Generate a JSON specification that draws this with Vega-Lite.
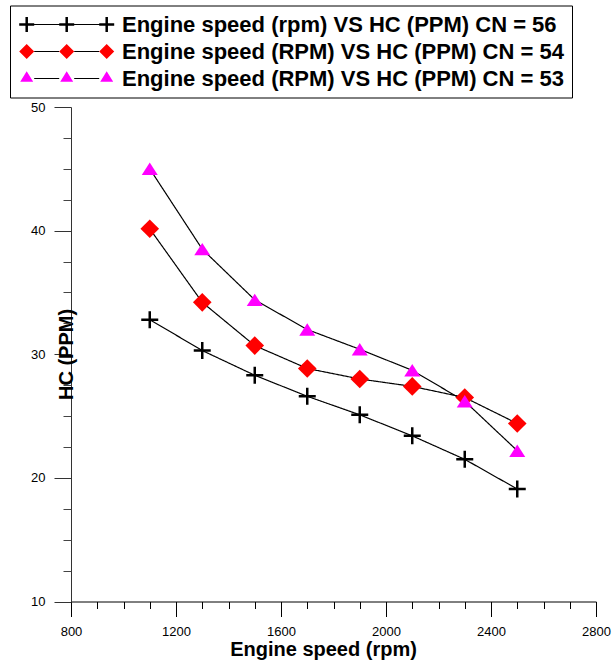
{
  "$schema": "https://vega.github.io/schema/vega-lite/v6.json",
  "width": 525,
  "height": 494.5,
  "autosize": {"type": "none"},
  "padding": {"left": 71, "top": 107, "right": 17, "bottom": 60.5},
  "background": "white",
  "config": {
    "view": {"stroke": null},
    "font": "Liberation Sans",
    "axis": {
      "grid": false,
      "labelFont": "Liberation Sans",
      "labelFontSize": 13,
      "labelColor": "black",
      "labelFlush": false,
      "labelOverlap": false,
      "titleFont": "Liberation Sans",
      "titleFontSize": 20,
      "titleFontWeight": "bold",
      "titleColor": "black",
      "domainColor": "black",
      "tickColor": "black",
      "domainWidth": 1,
      "tickWidth": 1
    }
  },
  "data": {
    "values": [
      {"series": "Engine speed (rpm) VS HC (PPM) CN = 56", "rpm": 1100, "hc": 32.8},
      {"series": "Engine speed (rpm) VS HC (PPM) CN = 56", "rpm": 1300, "hc": 30.3},
      {"series": "Engine speed (rpm) VS HC (PPM) CN = 56", "rpm": 1500, "hc": 28.3},
      {"series": "Engine speed (rpm) VS HC (PPM) CN = 56", "rpm": 1700, "hc": 26.6},
      {"series": "Engine speed (rpm) VS HC (PPM) CN = 56", "rpm": 1900, "hc": 25.1},
      {"series": "Engine speed (rpm) VS HC (PPM) CN = 56", "rpm": 2100, "hc": 23.4},
      {"series": "Engine speed (rpm) VS HC (PPM) CN = 56", "rpm": 2300, "hc": 21.5},
      {"series": "Engine speed (rpm) VS HC (PPM) CN = 56", "rpm": 2500, "hc": 19.1},
      {"series": "Engine speed (RPM) VS HC (PPM) CN = 54", "rpm": 1100, "hc": 40.15},
      {"series": "Engine speed (RPM) VS HC (PPM) CN = 54", "rpm": 1300, "hc": 34.2},
      {"series": "Engine speed (RPM) VS HC (PPM) CN = 54", "rpm": 1500, "hc": 30.7},
      {"series": "Engine speed (RPM) VS HC (PPM) CN = 54", "rpm": 1700, "hc": 28.85},
      {"series": "Engine speed (RPM) VS HC (PPM) CN = 54", "rpm": 1900, "hc": 28.0},
      {"series": "Engine speed (RPM) VS HC (PPM) CN = 54", "rpm": 2100, "hc": 27.4},
      {"series": "Engine speed (RPM) VS HC (PPM) CN = 54", "rpm": 2300, "hc": 26.5},
      {"series": "Engine speed (RPM) VS HC (PPM) CN = 54", "rpm": 2500, "hc": 24.4},
      {"series": "Engine speed (RPM) VS HC (PPM) CN = 53", "rpm": 1100, "hc": 45.0},
      {"series": "Engine speed (RPM) VS HC (PPM) CN = 53", "rpm": 1300, "hc": 38.5},
      {"series": "Engine speed (RPM) VS HC (PPM) CN = 53", "rpm": 1500, "hc": 34.4},
      {"series": "Engine speed (RPM) VS HC (PPM) CN = 53", "rpm": 1700, "hc": 32.0},
      {"series": "Engine speed (RPM) VS HC (PPM) CN = 53", "rpm": 1900, "hc": 30.4},
      {"series": "Engine speed (RPM) VS HC (PPM) CN = 53", "rpm": 2100, "hc": 28.7},
      {"series": "Engine speed (RPM) VS HC (PPM) CN = 53", "rpm": 2300, "hc": 26.2},
      {"series": "Engine speed (RPM) VS HC (PPM) CN = 53", "rpm": 2500, "hc": 22.2}
    ]
  },
  "layer": [
    {
      "mark": {"type": "line", "color": "black", "strokeWidth": 1.2},
      "encoding": {
        "x": {
          "field": "rpm", "type": "quantitative",
          "scale": {"domain": [800, 2800], "nice": false, "zero": false},
          "axis": {
            "values": [800, 1200, 1600, 2000, 2400, 2800],
            "format": "d", "tickSize": 15, "labelPadding": 9,
            "title": "Engine speed (rpm)",
            "titleX": 252, "titleY": 54, "titleAlign": "center", "titleBaseline": "alphabetic"
          }
        },
        "y": {
          "field": "hc", "type": "quantitative",
          "scale": {"domain": [10, 50], "nice": false, "zero": false},
          "axis": {
            "values": [10, 20, 30, 40, 50],
            "format": "d", "tickSize": 17, "labelPadding": 9,
            "domainColor": "#333333", "tickColor": "#333333",
            "title": "HC (PPM)",
            "titleX": -5, "titleY": 247, "titleAngle": 270, "titleAlign": "center", "titleBaseline": "middle"
          }
        },
        "strokeDash": {
          "field": "series", "type": "nominal",
          "scale": {
            "domain": ["Engine speed (rpm) VS HC (PPM) CN = 56", "Engine speed (RPM) VS HC (PPM) CN = 54", "Engine speed (RPM) VS HC (PPM) CN = 53"],
            "range": [[1, 0], [1, 0], [1, 0]]
          },
          "legend": {
            "orient": "none", "legendX": -61, "legendY": -101.5, "direction": "vertical",
            "title": null, "padding": 8, "symbolSize": 100, "symbolOffset": 37.7,
            "labelOffset": 44.3, "rowPadding": 5,
            "symbolType": "M-6.5,0H-1.5M1.5,0H6.5",
            "symbolStrokeColor": "black", "symbolStrokeWidth": 1.2, "symbolFillColor": "transparent",
            "symbolOpacity": 1,
            "labelFont": "Liberation Sans", "labelFontSize": 22, "labelFontWeight": "bold",
            "labelLimit": 800, "labelBaseline": "middle", "labelOpacity": 0
          }
        }
      }
    },
    {
      "mark": {"type": "point", "filled": true, "size": 400, "opacity": 1, "strokeWidth": 2.5},
      "encoding": {
        "x": {
          "field": "rpm", "type": "quantitative",
          "axis": {
            "orient": "bottom",
            "values": [900, 1000, 1100, 1300, 1400, 1500, 1700, 1800, 1900, 2100, 2200, 2300, 2500, 2600, 2700],
            "tickSize": 7, "labels": false, "domain": false, "title": null
          }
        },
        "y": {
          "field": "hc", "type": "quantitative",
          "axis": {
            "orient": "left",
            "values": [12.5, 15, 17.5, 22.5, 25, 27.5, 32.5, 35, 37.5, 42.5, 45, 47.5],
            "tickSize": 8, "labels": false, "domain": false, "title": null,
            "tickColor": "#444444"
          }
        },
        "shape": {
          "condition": [
            {"test": "datum.series === 'Engine speed (rpm) VS HC (PPM) CN = 56'", "value": "M-0.85,0H0.85M0,-0.85V0.85"},
            {"test": "datum.series === 'Engine speed (RPM) VS HC (PPM) CN = 54'", "value": "M0,-0.93L0.93,0L0,0.93L-0.93,0Z"}
          ],
          "value": "M0,-0.62L0.8,0.62L-0.8,0.62Z"
        },
        "fill": {
          "condition": [
            {"test": "datum.series === 'Engine speed (rpm) VS HC (PPM) CN = 56'", "value": "#000000"},
            {"test": "datum.series === 'Engine speed (RPM) VS HC (PPM) CN = 54'", "value": "#ff0000"}
          ],
          "value": "#ff00ff"
        },
        "stroke": {
          "condition": {"test": "datum.series === 'Engine speed (rpm) VS HC (PPM) CN = 56'", "value": "#000000"},
          "value": "transparent"
        }
      }
    },
    {
      "mark": {"type": "point", "filled": true, "size": 100, "opacity": 0},
      "encoding": {
        "x": {"field": "rpm", "type": "quantitative", "axis": null},
        "y": {"field": "hc", "type": "quantitative", "axis": null},
        "shape": {
          "field": "series", "type": "nominal", "sort": null,
          "scale": {
            "range": [
              "M-8,-0.1H8V0.1H-8Z M-9.5,-0.25H-6.5V0.25H-9.5Z M-8.25,-1.5H-7.75V1.5H-8.25Z M-1.5,-0.25H1.5V0.25H-1.5Z M-0.25,-1.5H0.25V1.5H-0.25Z M6.5,-0.25H9.5V0.25H6.5Z M7.75,-1.5H8.25V1.5H7.75Z",
              "M-8,-1.5L-6.5,0L-8,1.5L-9.5,0Z M0,-1.5L1.5,0L0,1.5L-1.5,0Z M8,-1.5L9.5,0L8,1.5L6.5,0Z",
              "M-8,-1.45L-6.7,0.65L-9.3,0.65Z M0,-1.45L1.3,0.65L-1.3,0.65Z M8,-1.45L9.3,0.65L6.7,0.65Z"
            ]
          },
          "legend": {
            "orient": "none", "legendX": -61, "legendY": -101.5, "direction": "vertical",
            "title": null, "padding": 8, "symbolSize": 100, "symbolOffset": 37.7,
            "labelOffset": 44.3, "rowPadding": 5, "strokeColor": "black",
            "symbolStrokeWidth": 0, "symbolOpacity": 1,
            "labelFont": "Liberation Sans", "labelFontSize": 22, "labelFontWeight": "bold",
            "labelLimit": 800, "labelBaseline": "middle",
            "encode": {
              "labels": {
                "fill": {"value": {"signal": "['#000000','#ff0000','#ff00ff'][datum.index]"}}
              }
            }
          }
        },
        "fill": {
          "field": "series", "type": "nominal", "sort": null,
          "scale": {"range": ["#000000", "#ff0000", "#ff00ff"]},
          "legend": {
            "orient": "none", "legendX": -61, "legendY": -101.5, "direction": "vertical",
            "title": null, "padding": 8, "symbolSize": 100, "symbolOffset": 37.7,
            "labelOffset": 44.3, "rowPadding": 5, "strokeColor": "black",
            "symbolStrokeWidth": 0, "symbolOpacity": 1,
            "labelFont": "Liberation Sans", "labelFontSize": 22, "labelFontWeight": "bold",
            "labelLimit": 800, "labelBaseline": "middle",
            "encode": {
              "labels": {
                "fill": {"value": {"signal": "['#000000','#ff0000','#ff00ff'][datum.index]"}}
              }
            }
          }
        }
      }
    }
  ],
  "resolve": {"axis": {"x": "independent", "y": "independent"}}
}
